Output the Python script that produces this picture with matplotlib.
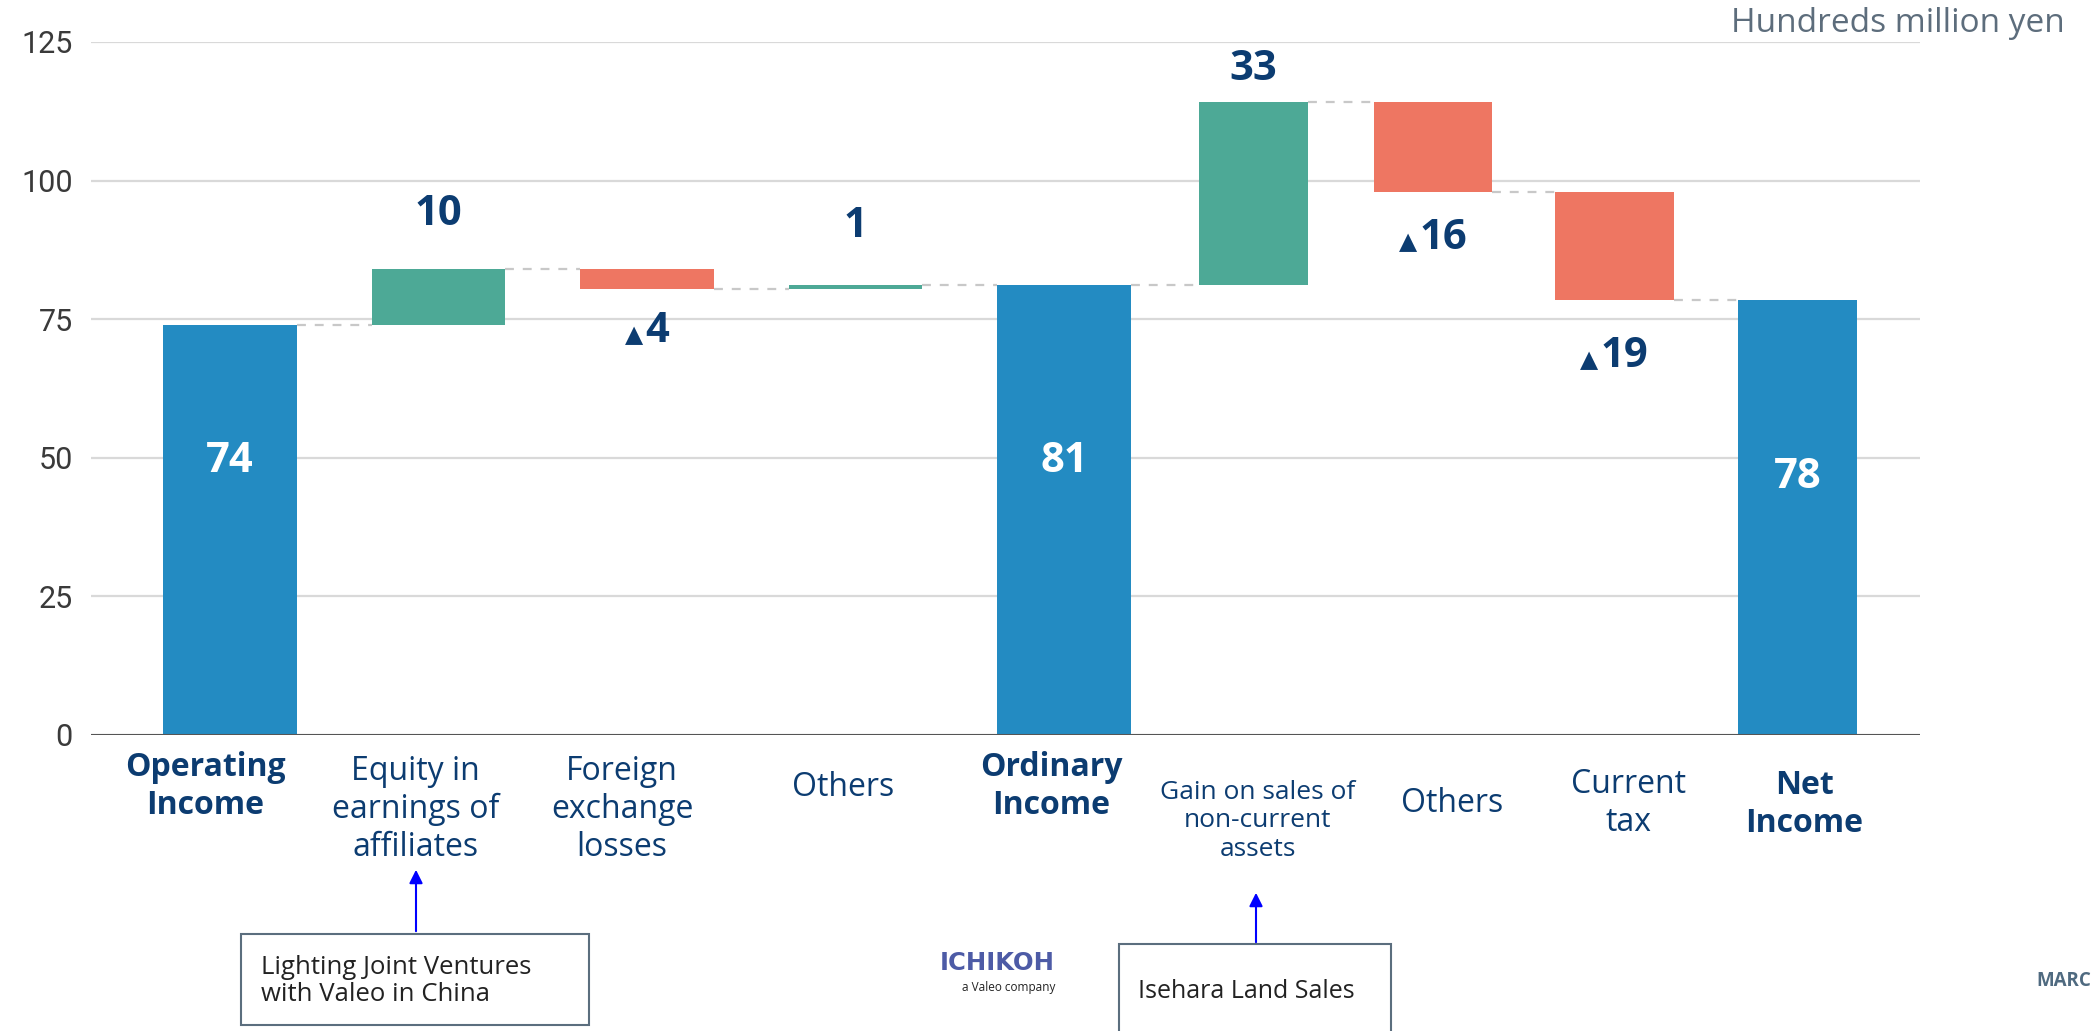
import numpy as np
import matplotlib
matplotlib.use("Agg")
import matplotlib.pyplot as plt
from matplotlib.patches import Rectangle, FancyArrowPatch
from matplotlib.offsetbox import TextArea, HPacker, AnnotationBbox

plt.rcParams["font.family"] = ["Open Sans", "DejaVu Sans"]

# --- data (hundreds of million yen) ---
categories = ["Operating\nIncome", "Equity in\nearnings of\naffiliates", "Foreign\nexchange\nlosses",
              "Others", "Ordinary\nIncome", "Gain on sales of\nnon-current\nassets", "Others",
              "Current\ntax", "Net\nIncome"]
is_total = [True, False, False, False, True, False, False, False, True]
operating_income = 74.0
steps = [10.1, -3.6, 0.7, 33.0, -16.3, -19.45]

# --- layout ---
W, H = 2091, 1031
bar_x = [0, 1, 2, 3, 4, 4.91, 5.77, 6.64, 7.52]
bar_w = [0.64, 0.64, 0.64, 0.64, 0.64, 0.52, 0.57, 0.57, 0.57]
label_x = [-0.12, 0.89, 1.88, 2.94, 3.94, 4.93, 5.86, 6.71, 7.55]
label_y = [-9.2, -13.5, -13.5, -9.4, -9.2, -15.5, -12.3, -12.4, -12.6]
label_size = [23, 23, 23, 23, 23, 19, 23, 23, 23]
total_label_y = [49.3, 49.3, 46.4]
step_label_y = [93.8, 72.7, 91.8, 120.1, 89.5, 68.2]

BLUE = "#238bc2"
GREEN = "#4da996"
RED = "#ee7662"
NAVY = "#0c3c71"

fig = plt.figure(figsize=(W / 100, H / 100), dpi=100)
ax = fig.add_axes([91 / W, 1 - 735 / H, (1920 - 91) / W, (735 - 42) / H])
ax.set_xlim(-0.667, 8.106)
ax.set_ylim(0, 125)

ax.set_yticks([0, 25, 50, 75, 100, 125])
ax.yaxis.grid(True, color="#d9d9d9", lw=1.6)
ax.set_axisbelow(True)
ax.set_xticks([])
ax.tick_params(axis="y", length=0, pad=13, labelsize=22, labelcolor="#3a3a3a")
for t in ax.get_yticklabels():
    t.set_fontfamily("Roboto")
for s in ax.spines.values():
    s.set_visible(False)
ax.axhline(0, color="#555555", lw=2.2, zorder=3)

# --- waterfall ---
level = operating_income
tops = []
step_i = 0
total_i = 0
for i, cat in enumerate(categories):
    if is_total[i]:
        ax.bar(bar_x[i], level, bottom=0, width=bar_w[i], color=BLUE, zorder=2)
        ax.text(bar_x[i], total_label_y[total_i], f"{level:.0f}", ha="center", va="center",
                fontsize=30, fontweight="bold", color="white", zorder=4)
        total_i += 1
    else:
        d = steps[step_i]
        color = GREEN if d > 0 else RED
        ax.bar(bar_x[i], d, bottom=level, width=bar_w[i], color=color, zorder=2)
        num = TextArea(f"{abs(d):.0f}", textprops=dict(fontsize=30, fontweight="bold", color=NAVY))
        if d < 0:
            tri = TextArea("\u25B2", textprops=dict(fontsize=17, color=NAVY, family="DejaVu Sans"))
            box = HPacker(children=[tri, num], align="baseline", pad=0, sep=2)
        else:
            box = HPacker(children=[num], align="baseline", pad=0, sep=0)
        ab = AnnotationBbox(box, (bar_x[i], step_label_y[step_i]), frameon=False,
                            box_alignment=(0.5, 0.5), pad=0, annotation_clip=False, zorder=4)
        ax.add_artist(ab)
        level = level + d
        step_i += 1
    tops.append(level)

    # category label under the axis
    ax.text(label_x[i], label_y[i], cat, ha="center", va="center", fontsize=label_size[i],
            fontweight="bold" if is_total[i] else "normal", color=NAVY,
            linespacing=1.2, clip_on=False)

# dashed connectors between neighbouring bars
for i in range(len(categories) - 1):
    x0 = bar_x[i] + bar_w[i] / 2
    x1 = bar_x[i + 1] - bar_w[i + 1] / 2
    ax.plot([x0, x1], [tops[i], tops[i]], color="#c8c8c8", lw=1.6,
            linestyle=(0, (4, 4)), zorder=1)

# unit note
fig.text(2065 / W, 1 - 24 / H, "Hundreds million yen", ha="right", va="center",
         fontsize=24, color="#5d6d7c")

# call-out boxes
fig.add_artist(Rectangle((241 / W, 1 - 1025 / H), 348 / W, 91 / H, transform=fig.transFigure,
                         fill=False, ec="#5b6e7e", lw=1.5))
fig.text(261 / W, 1 - 981 / H, "Lighting Joint Ventures\nwith Valeo in China", ha="left",
         va="center", fontsize=18.5, color="#222222", linespacing=1.15)
fig.add_artist(FancyArrowPatch((416 / W, 1 - 934 / H), (416 / W, 1 - 867 / H),
                               transform=fig.transFigure, arrowstyle="-|>",
                               mutation_scale=20, color="#0000ff", lw=1.5))

fig.add_artist(Rectangle((1119 / W, 1 - 1045 / H), 272 / W, 101 / H, transform=fig.transFigure,
                         fill=False, ec="#5b6e7e", lw=1.5))
fig.text(1138 / W, 1 - 992 / H, "Isehara Land Sales", ha="left", va="center",
         fontsize=18, color="#222222")
fig.add_artist(FancyArrowPatch((1256 / W, 1 - 945 / H), (1256 / W, 1 - 890 / H),
                               transform=fig.transFigure, arrowstyle="-|>",
                               mutation_scale=20, color="#0000ff", lw=1.5))

# company mark and footer
fig.text(1055 / W, 1 - 963 / H, "ICHIKOH", ha="right", va="center", fontsize=17.5,
         fontweight="heavy", color="#4d5ba6", family="DejaVu Sans")
fig.text(1055 / W, 1 - 987 / H, "a Valeo company", ha="right", va="center", fontsize=8.5,
         color="#222222")
fig.text(2036 / W, 1 - 981 / H, "MARC", ha="left", va="center", fontsize=13.5,
         fontweight="bold", color="#4f6a80")

fig.savefig("out.png", dpi=100)
